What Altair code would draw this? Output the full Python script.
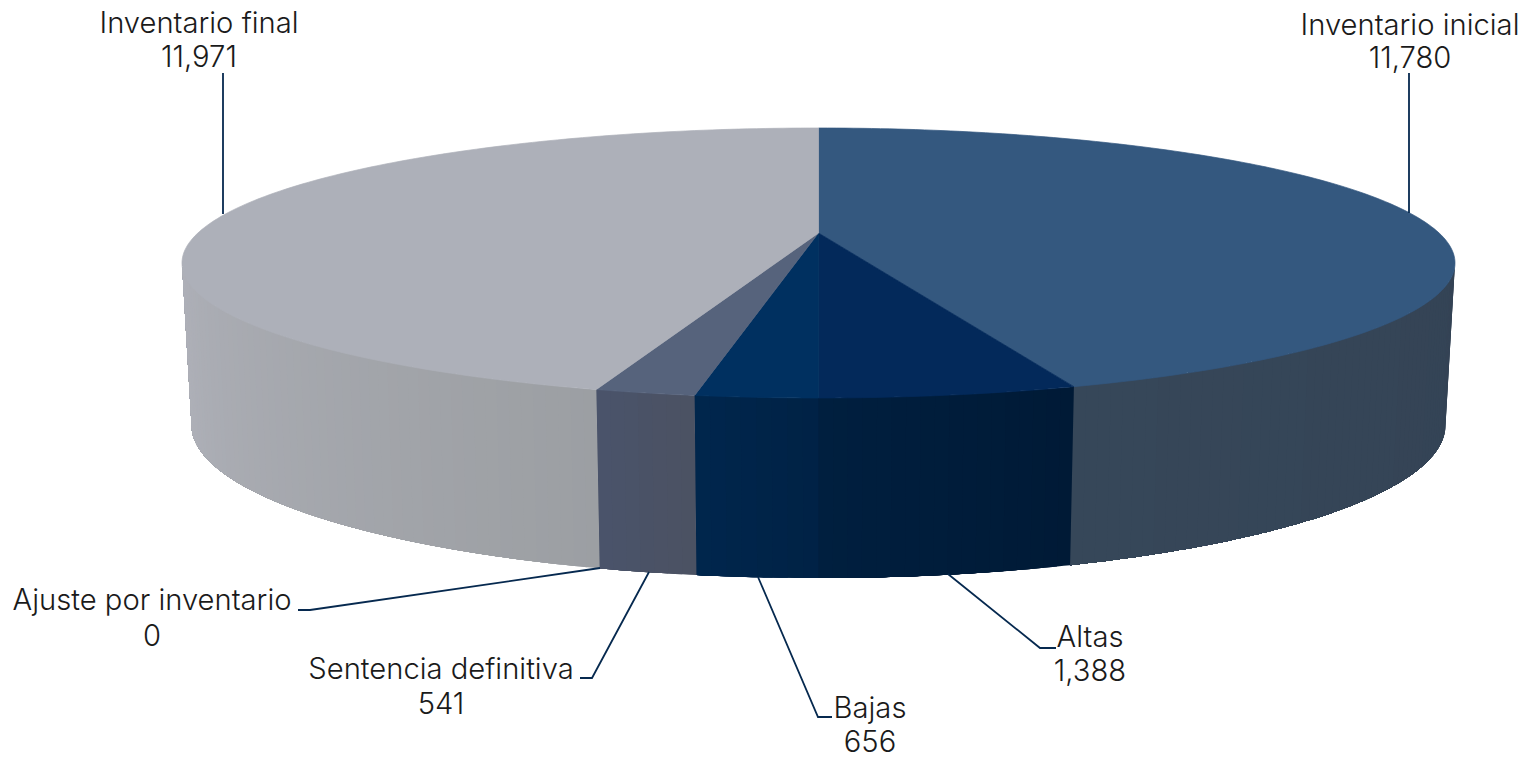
import math
import altair as alt
import pandas as pd

# ---- chart values
categories = ["Inventario inicial", "Altas", "Bajas", "Sentencia definitiva",
              "Ajuste por inventario", "Inventario final"]
values = [11780, 1388, 656, 541, 0, 11971]

# ---- styles
top_colors = ["#34587F", "#03295A", "#003060", "#56637C", "#56637C", "#ADB0B9"]
side_colors = {
    "Inventario inicial": ("#344355", "#364759"),
    "Altas": ("#001A36", "#001F3F"),
    "Bajas": ("#002245", "#00264D"),
    "Sentencia definitiva": ("#4B5262", "#4A536B"),
    "Inventario final": ("#9C9FA3", "#AFB1B9"),
}

# ---- layout (page pixels)
MARGIN = 8
CX, TOP_CY, TOP_RX, TOP_RY = 818.5, 263, 636.5, 135
BOT_CY, BOT_RX, BOT_RY = 425, 627, 153
K = -0.222  # perspective of the disc

FONT = "Inter"
FONT_WEIGHT = 300
FONT_SIZE = 29.2
TEXT_COLOR = "#1A1A1A"
LEADER_COLOR = "#06294F"

label_pos = {
    "Inventario inicial": (1410, 26, 59),
    "Altas": (1090, 638, 672),
    "Bajas": (870, 709, 743),
    "Sentencia definitiva": (441, 670, 705),
    "Ajuste por inventario": (152, 601, 637),
    "Inventario final": (199, 24, 58),
}
leader_paths = {
    "Inventario inicial": [(1409, 73), (1409, 213)],
    "Altas": [(948, 574), (1040, 648), (1056, 648)],
    "Bajas": [(758, 577), (818, 717), (832, 717)],
    "Sentencia definitiva": [(649, 572), (592, 678), (580, 678)],
    "Ajuste por inventario": [(600, 568), (310, 610), (298, 610)],
    "Inventario final": [(223, 73), (223, 214)],
}


def project(theta, cy, rx, ry):
    """Clockwise angle from twelve o'clock to a point on a perspective disc."""
    u, v = math.sin(theta), -math.cos(theta)
    d = 1 + K * v
    return [CX + rx * u * math.sqrt(1 - K * K) / d - MARGIN,
            cy + ry * (v + K) / d - MARGIN]


def top(theta):
    return project(theta, TOP_CY, TOP_RX, TOP_RY)


def bottom(theta):
    return project(theta, BOT_CY, BOT_RX, BOT_RY)


def angles(a, b, step=math.radians(1)):
    n = max(1, int(abs(b - a) / step))
    return [a + (b - a) * i / n for i in range(n + 1)]


def feature(ring, color):
    return {"type": "Feature",
            "geometry": {"type": "Polygon", "coordinates": [ring + [ring[0]]]},
            "properties": {"color": color}}


def mix(c1, c2, t):
    a = [int(c1[i:i + 2], 16) for i in (1, 3, 5)]
    b = [int(c2[i:i + 2], 16) for i in (1, 3, 5)]
    return "#" + "".join(f"{round(p + (q - p) * t):02X}" for p, q in zip(a, b))


total = sum(values)
centre = [CX - MARGIN, TOP_CY + TOP_RY * K - MARGIN]
vis_right = math.acos(K)             # right end of the visible wall
vis_left = 2 * math.pi - vis_right   # left end of the visible wall

top_faces, walls = [], []
start = 0.0
for name, value, color in zip(categories, values, top_colors):
    end = start + value / total * 2 * math.pi
    if value > 0:
        ring = [centre] + [top(t) for t in angles(start, end)]
        top_faces.append(feature(ring, color))
        a, b = max(start, vis_right), min(end, vis_left)
        if b > a:
            c_near, c_far = side_colors[name]
            n = max(1, int(math.degrees(b - a)))
            # each band runs on to the end of the wall and the next one paints
            # over it, so no seam of background shows between bands
            for i in range(n):
                t0 = a + (b - a) * i / n
                shade = mix(c_near, c_far, (i + 0.5) / n)
                seg = angles(t0, b, math.radians(0.5))
                walls.append(feature([top(t) for t in seg] +
                                     [bottom(t) for t in reversed(seg)], shade))
    start = end


def shapes(features, width):
    return (alt.Chart(alt.Data(values=features))
            .mark_geoshape(strokeWidth=width)
            .encode(fill=alt.Fill("properties.color:N", scale=None),
                    stroke=alt.Stroke("properties.color:N", scale=None))
            .project(type="identity", scale=1, translate=[0, 0]))


labels = []
for name, value in zip(categories, values):
    x, y1, y2 = label_pos[name]
    labels.append({"x": x - MARGIN, "y": y1 - MARGIN, "t": name})
    labels.append({"x": x - MARGIN, "y": y2 - MARGIN, "t": f"{value:,}"})

leaders = [{"leader": name, "i": i, "x": x - MARGIN, "y": y - MARGIN}
           for name, path in leader_paths.items() for i, (x, y) in enumerate(path)]

x_px = alt.X("x:Q", scale=None, axis=None)
y_px = alt.Y("y:Q", scale=None, axis=None)

leader_layer = (alt.Chart(pd.DataFrame(leaders))
                .mark_line(color=LEADER_COLOR, strokeWidth=1.8)
                .encode(x=x_px, y=y_px, detail="leader:N", order="i:Q"))
text_layer = (alt.Chart(pd.DataFrame(labels))
              .mark_text(font=FONT, fontSize=FONT_SIZE, fontWeight=FONT_WEIGHT,
                         color=TEXT_COLOR, align="center", baseline="middle")
              .encode(x=x_px, y=y_px, text="t:N"))

chart = (alt.layer(shapes(walls, 0), shapes(top_faces, 0.7), leader_layer, text_layer)
         .properties(width=1511, height=749, padding=0, background="white",
                     autosize=alt.AutoSizeParams(type="none"))
         .configure_view(stroke=None))

chart.save("out.html", embed_options={"renderer": "svg", "actions": False})
